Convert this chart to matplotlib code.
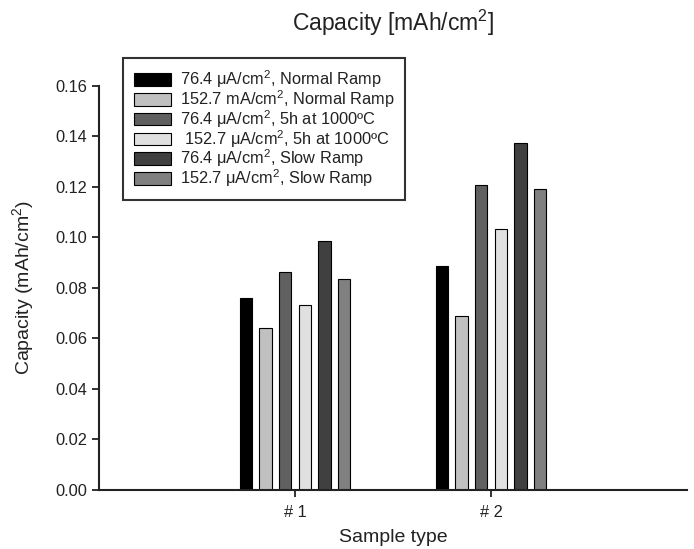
import numpy as np
import matplotlib.pyplot as plt
from matplotlib.patches import Patch

plt.rcParams['font.family'] = ['Liberation Sans', 'DejaVu Sans']
plt.rcParams['mathtext.fontset'] = 'custom'
plt.rcParams['mathtext.rm'] = 'Liberation Sans'
plt.rcParams['mathtext.it'] = 'Liberation Sans:italic'

samples = ['# 1', '# 2']
series_labels = [
    '76.4 \u03bcA/cm$^2$, Normal Ramp',
    '152.7 mA/cm$^2$, Normal Ramp',
    '76.4 \u03bcA/cm$^2$, 5h at 1000\u00baC',
    ' 152.7 \u03bcA/cm$^2$, 5h at 1000\u00baC',
    '76.4 \u03bcA/cm$^2$, Slow Ramp',
    '152.7 \u03bcA/cm$^2$, Slow Ramp',
]
normal_76 = [0.0759, 0.0888]
normal_152 = [0.0643, 0.0689]
hold_76 = [0.0863, 0.1208]
hold_152 = [0.0734, 0.1033]
slow_76 = [0.0986, 0.1375]
slow_152 = [0.0836, 0.1192]
values = [normal_76, normal_152, hold_76, hold_152, slow_76, slow_152]
colors = ['#000000', '#c0c0c0', '#606060', '#e0e0e0', '#404040', '#808080']

fig = plt.figure(figsize=(6.94, 5.49), dpi=100)
ax = fig.add_axes([0.1427, 0.1075, 0.8472, 0.7359])

x = np.arange(1, len(samples) + 1)
step = 0.1
width = 0.063
for i, (vals, c) in enumerate(zip(values, colors)):
    ax.bar(x + (i - 2.5) * step, vals, width, color=c, edgecolor='black',
           linewidth=0.8)

ax.set_xlim(0, 3)
ax.set_ylim(0, 0.16)
ax.set_yticks(np.arange(0, 0.161, 0.02))
ax.set_yticklabels(['%.2f' % v for v in np.arange(0, 0.161, 0.02)])
ax.set_xticks(x)
ax.set_xticklabels(samples)
ax.tick_params(labelsize=11.8, width=1.3, length=5, color='#222222',
               labelcolor='#222222')
ax.tick_params(axis='x', pad=6)
ax.spines['top'].set_visible(False)
ax.spines['right'].set_visible(False)
for s in ['left', 'bottom']:
    ax.spines[s].set_linewidth(1.5)
    ax.spines[s].set_color('#222222')

ax.set_xlabel('Sample type', fontsize=14, labelpad=6, color='#222222')
ax.set_ylabel('Capacity (mAh/cm$^2$)', fontsize=14, labelpad=14,
              color='#222222')
fig.text(0.567, 1 - 23 / 549, 'Capacity [mAh/cm$^2$]', fontsize=16.5,
         ha='center', va='center', color='#222222')

handles = [Patch(facecolor=c, edgecolor='black', linewidth=0.8) for c in colors]
leg = fig.legend(handles, series_labels, loc='upper left',
                 bbox_to_anchor=(123 / 694, 1 - 58 / 549), fontsize=11.8,
                 frameon=True, fancybox=False, handlelength=2.3,
                 handleheight=0.8, handletextpad=0.5, labelspacing=-0.12,
                 borderpad=0.65, borderaxespad=0)
leg.get_frame().set_edgecolor('black')
leg.get_frame().set_linewidth(1.5)
for t in leg.get_texts():
    t.set_color('#222222')

fig.savefig('out.png', dpi=100)
